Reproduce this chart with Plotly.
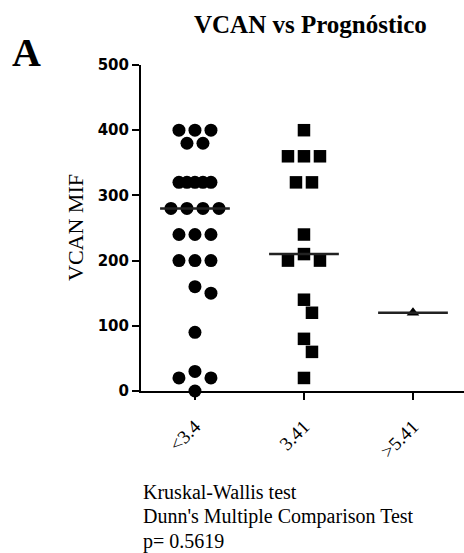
import numpy as np
import plotly.graph_objects as go

# ---------------- data ----------------
categories = ["<3.4", "3.41", ">5.41"]
vcan_low = [400, 400, 400, 380, 380, 320, 320, 320, 320, 320, 280, 280, 280, 280,
            240, 240, 240, 200, 200, 200, 160, 150, 90, 30, 20, 20, 0]
vcan_mid = [400, 360, 360, 360, 320, 320, 240, 210, 200, 200, 140, 120, 80, 60, 20]
vcan_high = [120]
y_ticks = [0, 100, 200, 300, 400, 500]

title = "VCAN vs Prognóstico"
y_title = "VCAN MIF"
stats_lines = ["Kruskal-Wallis test", "Dunn's Multiple Comparison Test", "p= 0.5619"]

# ---------------- layout geometry ----------------
W, H = 464, 553
ML, MR, MT, MB = 141, 0, 65, 162
XR = [-0.495, 2.468]
YR = [0, 500]
PW, PH = W - ML - MR, H - MT - MB
px_x = PW / (XR[1] - XR[0])
px_y = PH / (YR[1] - YR[0])

SERIF = "Liberation Serif, Times New Roman, DejaVu Serif, serif"


def swarm(values, step=8, dist=14):
    """Simple beeswarm: spread tied/close values horizontally (in px), return offsets in axis units."""
    vals = np.asarray(values, float)
    offs = np.zeros(len(vals))
    placed = []
    for v in sorted(set(vals), reverse=True):
        idx = [j for j in range(len(vals)) if vals[j] == v]
        n = len(idx)
        base = 16 if n <= 4 else 8
        yp = v * px_y
        cands = []
        for extra in range(0, 48, step):
            for shift in [0, step, -step, 2 * step, -2 * step, 3 * step, -3 * step]:
                cands.append((extra + abs(shift), abs(shift), extra, shift))
        cands.sort(key=lambda c: (c[0], c[1]))
        xs = None
        for _, _, extra, shift in cands:
            sp = base + extra
            xs = [shift + (k - (n - 1) / 2) * sp for k in range(n)]
            if all(np.hypot(x - px, yp - py) >= dist for x in xs for px, py in placed):
                break
        for j, x in zip(idx, xs):
            offs[j] = x
        placed += [(x, yp) for x in xs]
    return offs / px_x


fig = go.Figure()

groups = [(vcan_low, "circle", 13), (vcan_mid, "square", 12.5), (vcan_high, "triangle-up", 11)]
for i, (vals, sym, size) in enumerate(groups):
    off = swarm(vals)
    fig.add_trace(go.Scatter(
        x=i + off, y=vals, mode="markers",
        marker=dict(symbol=sym, size=size, color="black", line=dict(width=0)),
        cliponaxis=False, showlegend=False, hoverinfo="y"))

# median lines
mx, my = [], []
for i, (vals, _, _) in enumerate(groups):
    m = float(np.median(vals))
    mx += [i - 0.32, i + 0.32, None]
    my += [m, m, None]
fig.add_trace(go.Scatter(x=mx, y=my, mode="lines", line=dict(color="#222222", width=2.5),
                         showlegend=False, hoverinfo="skip", cliponaxis=False))


def px2paper(xp, yp):
    return (xp - ML) / PW, (H - MB - yp) / PH


annots = []
tx, ty = px2paper(310, 24)
annots.append(dict(text="<b>%s</b>" % title, x=tx, y=ty, xref="paper", yref="paper",
                   xanchor="center", yanchor="middle", showarrow=False,
                   font=dict(family=SERIF, size=25, color="black")))
ax_, ay_ = px2paper(26, 52)
annots.append(dict(text="<b>A</b>", x=ax_, y=ay_, xref="paper", yref="paper",
                   xanchor="center", yanchor="middle", showarrow=False,
                   font=dict(family=SERIF, size=40, color="black")))
yx, yy = px2paper(75, 228)
annots.append(dict(text=y_title, x=yx, y=yy, xref="paper", yref="paper", textangle=-90,
                   xanchor="center", yanchor="middle", showarrow=False,
                   font=dict(family=SERIF, size=22, color="black")))
for k, line in enumerate(stats_lines):
    lx, ly = px2paper(141, 492 + 24.5 * k)
    annots.append(dict(text=line, x=lx, y=ly, xref="paper", yref="paper",
                       xanchor="left", yanchor="middle", showarrow=False,
                       font=dict(family=SERIF, size=20, color="black")))

fig.update_layout(
    width=W, height=H,
    margin=dict(l=ML, r=MR, t=MT, b=MB, pad=0),
    paper_bgcolor="white", plot_bgcolor="white",
    showlegend=False,
    annotations=annots,
    xaxis=dict(range=XR, tickmode="array", tickvals=list(range(len(categories))),
               ticktext=categories, tickangle=-45, ticks="outside", ticklen=7, tickwidth=2,
               tickcolor="black", showline=True, linecolor="black", linewidth=2,
               showgrid=False, zeroline=False, ticklabelstandoff=8,
               tickfont=dict(family=SERIF, size=19, color="black")),
    yaxis=dict(range=YR, tickmode="array", tickvals=y_ticks, ticks="outside", ticklen=7,
               tickwidth=2, tickcolor="black", showline=True, linecolor="black", linewidth=2,
               showgrid=False, zeroline=False,
               tickfont=dict(family="DejaVu Sans", size=15, color="black", weight="bold")),
)

fig.write_html("out.html")
